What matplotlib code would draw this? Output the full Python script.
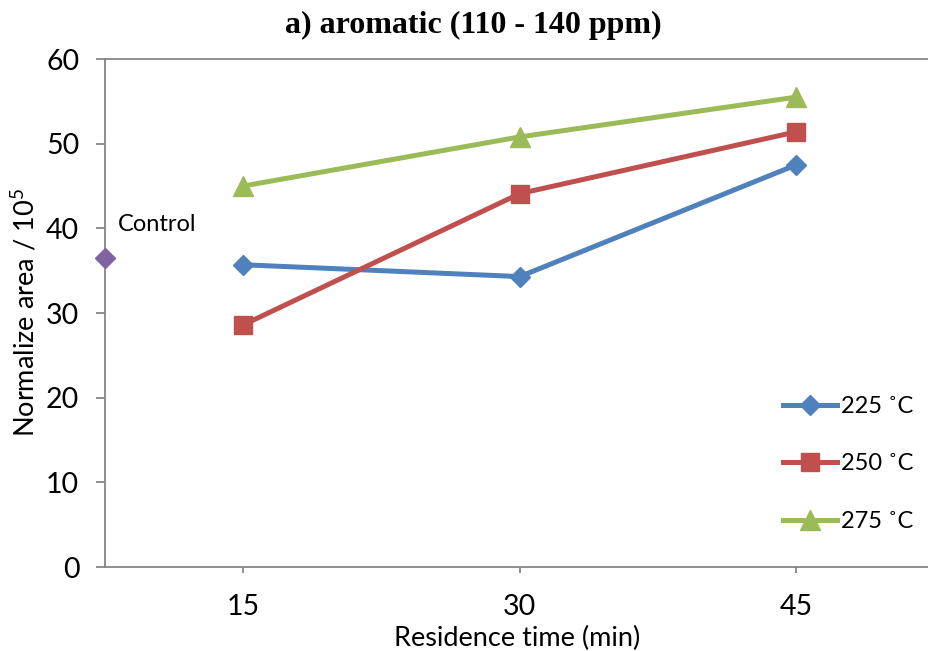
import matplotlib.pyplot as plt

plt.rcParams['font.family'] = ['Lato', 'DejaVu Sans']
plt.rcParams['mathtext.fontset'] = 'custom'
plt.rcParams['mathtext.rm'] = 'Lato'

# Residence times (min) and normalized areas (x 10^5)
times = [15, 30, 45]
area_225 = [35.7, 34.3, 47.5]
area_250 = [28.6, 44.1, 51.4]
area_275 = [45.0, 50.8, 55.5]
control_x = 7.5
control_y = 36.5

series = [
    ('225 ˚C', area_225, '#4F81BD', 'D', 10.0),
    ('250 ˚C', area_250, '#C0504D', 's', 13.5),
    ('275 ˚C', area_275, '#9BBB59', '^', 14.5),
]

fig = plt.figure(figsize=(9.29, 6.51), dpi=100)
ax = fig.add_axes([105 / 929, 1 - 567 / 651, 1 - 105 / 929, (567 - 59) / 651])

for label, vals, color, marker, ms in series:
    ax.plot(times, vals, color=color, marker=marker, markersize=ms,
            linewidth=3.6, label=label, clip_on=False)

ax.plot([control_x], [control_y], linestyle='none', marker='D', markersize=10,
        color='#8064A2', clip_on=False, zorder=5)
ax.annotate('Control', (control_x, control_y), xytext=(9, 24),
            textcoords='offset points', fontsize=17, va='center', ha='left')

ax.set_xlim(control_x, 52.2)
ax.set_ylim(0, 60)
ax.set_xticks(times)
ax.set_yticks(range(0, 61, 10))

for side in ['top', 'bottom', 'left']:
    ax.spines[side].set_color('#868686')
    ax.spines[side].set_linewidth(1.3)
ax.spines['right'].set_visible(False)

ax.tick_params(axis='y', direction='out', length=6.5, width=1.3, color='#868686',
               labelsize=20.5, pad=12)
ax.tick_params(axis='x', direction='out', length=4.5, width=1.3, color='#868686',
               labelsize=20.5, pad=15)

ax.set_xlabel('Residence time (min)', fontsize=19.5, labelpad=4)
ax.set_ylabel('Normalize area / 10$^{5}$', fontsize=19.5, labelpad=5)

fig.text(473 / 929, 1 - 25 / 651, 'a) aromatic (110 - 140 ppm)',
         family='Liberation Serif', fontweight='bold', fontsize=23,
         ha='center', va='center')

ax.legend(loc='center left', bbox_to_anchor=(783 / 929, 1 - 464 / 651),
          bbox_transform=fig.transFigure, frameon=False, fontsize=17,
          handlelength=2.3, handletextpad=0.15, labelspacing=1.55,
          borderpad=0, borderaxespad=0)

fig.savefig('out.png', dpi=100)
